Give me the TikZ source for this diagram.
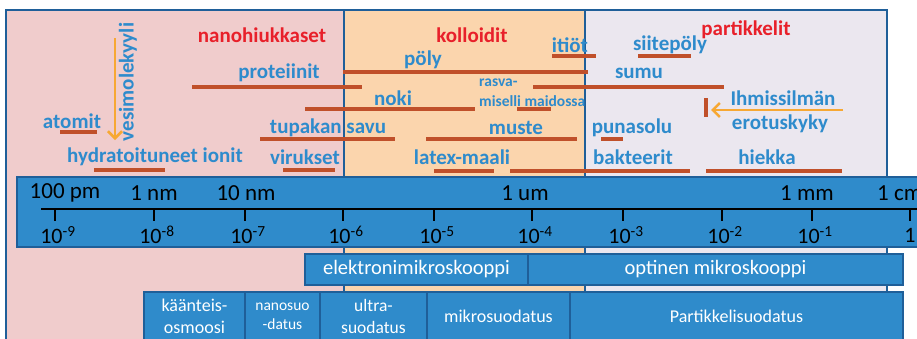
\documentclass[tikz,border=0pt]{standalone}
\usepackage{fontspec}
\setmainfont{Carlito}
\usepackage{tikz}
\usetikzlibrary{arrows.meta,positioning}

\definecolor{pinkbg}{HTML}{F0CCCC}
\definecolor{orangebg}{HTML}{FBD5AD}
\definecolor{lilacbg}{HTML}{EBE7EF}
\definecolor{edgeblue}{HTML}{1F5F99}
\definecolor{scaleblue}{HTML}{2F8BCB}
\definecolor{txtblue}{HTML}{2E8BCC}
\definecolor{headred}{HTML}{E8202A}
\definecolor{barred}{HTML}{C0502A}
\definecolor{arrorange}{HTML}{F7A833}

\begin{document}
\begin{tikzpicture}[
  x=1pt, y=-1pt,
  node distance=0pt,
  zone/.style={draw=edgeblue, line width=2pt},
  lbl/.style={text=txtblue, font=\fontsize{21}{23}\selectfont\bfseries, inner sep=0pt},
  head/.style={text=headred, font=\fontsize{21}{23}\selectfont\bfseries, inner sep=0pt},
  unit/.style={font=\fontsize{23}{25}\selectfont, inner sep=0pt},
  bar/.style={draw=barred, line width=3.5pt},
  box/.style={draw=edgeblue, fill=scaleblue, text=white, line width=1.5pt, outer sep=0pt, inner sep=0pt, align=center},
  arr/.style={draw=arrorange, line width=2.5pt, -{Straight Barb[length=7pt,width=14pt]}}
]
\clip (0,0) rectangle (917,338);

% size zones
\fill[white] (0,0) rectangle (917,338);
\draw[zone, fill=pinkbg] (6,10) rectangle (344,350);
\draw[zone, fill=orangebg] (344,10) rectangle (585,350);
\draw[zone, fill=lilacbg] (585,10) rectangle (887,350);

\node[head] (nano) at (262,35) {nanohiukkaset};
\node[head] (koll) at (472,35) {kolloidit};
\node[head] (part) at (746,30) {partikkelit};

% particles
\node[lbl, rotate=90] (vesi) at (128,82) {vesimolekyyli};
\node[lbl] (atom) at (72,121) {atomit};
\node[lbl] (ionit) at (155,157) {hydratoituneet ionit};
\node[lbl] (prot) at (279,73) {proteiinit};
\node[lbl] (noki) at (393,98) {noki};
\node[lbl] (savu) at (328,128) {tupakan savu};
\node[lbl] (virus) at (305,157) {virukset};
\node[lbl] (poly) at (423,60) {pöly};
\node[lbl] (itiot) at (570,45) {itiöt};
\node[lbl, anchor=west, align=left, font=\fontsize{15.5}{20}\selectfont\bfseries] (rasva) at (479,93) {rasva-\\miselli maidossa};
\node[lbl] (muste) at (516,128) {muste};
\node[lbl] (latex) at (462,157) {latex-maali};
\node[lbl] (sumu) at (639,73) {sumu};
\node[lbl] (siite) at (670,45) {siitepöly};
\node[lbl] (puna) at (632,128) {punasolu};
\node[lbl] (bakt) at (633,157) {bakteerit};
\node[lbl] (hiekka) at (767,157) {hiekka};
\node[lbl] (silma) at (783,98) {Ihmissilmän};
\node[lbl] (erotus) at (780,124) {erotuskyky};

% size ranges
\foreach \y/\a/\b in {132/60/97, 170/94/165, 87/192/362, 109/305/475, 139/260/395,
  170/283/335, 72/343/588, 56/552/596, 87/533/724, 109/517/551, 139/426/577,
  171/434/494, 171/510/690, 139/601/623, 56/638/691, 171/706/842}
  \draw[bar] (\a,\y) -- (\b,\y);
\draw[bar, line width=4pt] (706,98) -- (706,117);

\coordinate (vtop) at (115,38);
\coordinate (vbot) at (115,140);
\coordinate (eyefrom) at (843,110);
\coordinate (eyeto) at (711,110);
\draw[arr] (vtop) -- (vbot);
\draw[arr] (eyefrom) -- (eyeto);

% scale
\draw[draw=edgeblue, fill=scaleblue, line width=1.5pt] (17,177) rectangle (940,247);
\draw[line width=1.8pt] (41,209) -- (940,209);
\foreach \x/\e in {55/-9, 154/-8, 245/-7, 343/-6, 434/-5, 532/-4, 623/-3, 722/-2, 812/-1} {
  \draw[line width=1.8pt] (\x,209) -- (\x,221);
  \node[unit, font=\fontsize{22}{24}\selectfont] at (\x+3,235) {10\textsuperscript{\e}};
}
\draw[line width=1.8pt] (910,209) -- (910,221);
\node[unit, font=\fontsize{22}{24}\selectfont] (one) at (910,235) {1};

\node[unit] (pm) at (65,193) {100 pm};
\node[unit] (nm) at (154,193) {1 nm};
\node[unit] (tnm) at (246,193) {10 nm};
\node[unit] (um) at (525,193) {1 um};
\node[unit] (mm) at (807,193) {1 mm};
\node[unit, anchor=west] (cm) at (877,193) {1 cm};

% methods
\node[box, minimum width=223pt, minimum height=31pt, font=\fontsize{20.5}{22}\selectfont] (elmik) at (416.5,269.5) {elektronimikroskooppi};
\node[box, right=of elmik, minimum width=375pt, minimum height=31pt, font=\fontsize{20.5}{22}\selectfont] (opmik) {optinen mikroskooppi};

\node[box, minimum width=101pt, minimum height=48pt, font=\fontsize{18}{22}\selectfont] (osmo) at (194.5,316) {käänteis-\\osmoosi};
\node[box, right=of osmo, minimum width=75pt, minimum height=48pt, font=\fontsize{15.5}{19}\selectfont] (nanosuo) {nanosuo\\-datus};
\node[box, right=of nanosuo, minimum width=107pt, minimum height=48pt, font=\fontsize{17.5}{22}\selectfont] (ultra) {ultra-\\suodatus};
\node[box, right=of ultra, minimum width=143pt, minimum height=48pt, font=\fontsize{18}{22}\selectfont] (mikro) {mikrosuodatus};
\node[box, right=of mikro, minimum width=333pt, minimum height=48pt, font=\fontsize{18}{22}\selectfont] (partsuo) {Partikkelisuodatus};
\end{tikzpicture}
\end{document}
